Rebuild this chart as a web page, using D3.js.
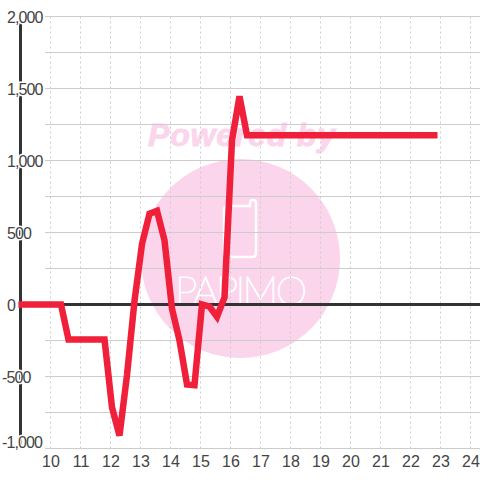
<!DOCTYPE html>
<html>
<head>
<meta charset="utf-8">
<script src="https://cdn.jsdelivr.net/npm/d3@7"></script>
<style>
html, body { margin: 0; padding: 0; background: #fff; }
svg { display: block; }
text { font-family: "Liberation Sans", sans-serif; }
</style>
</head>
<body>
<svg></svg>
<script>
const svgWidth = 480;
const svgHeight = 480;

const hours = [8.93, 10.35, 10.6, 11.8, 12.05, 12.3, 12.55, 12.8, 13.05, 13.3, 13.55, 13.8, 14.05, 14.3, 14.55, 14.8, 15.05, 15.3, 15.55, 15.8, 16.05, 16.3, 16.55, 22.9];
const values = [0, 0, -243, -243, -715, -910, -490, 25, 420, 630, 650, 445, -30, -250, -555, -560, 0, -15, -85, 50, 1140, 1445, 1175, 1175];
const xTicks = [10, 11, 12, 13, 14, 15, 16, 17, 18, 19, 20, 21, 22, 23, 24];
const yTicks = [2000, 1500, 1000, 500, 0, -500, -1000];
const yGrid = [2000, 1750, 1500, 1250, 1000, 750, 500, 250, 0, -250, -500, -750, -1000];

const svg = d3.select("svg")
	.attr("width", svgWidth)
	.attr("height", svgHeight);

const xScale = d3.scaleLinear().domain([9, 24]).range([20.5, 470.5]);
const yScale = d3.scaleLinear().domain([-1000, 2000]).range([448.5, 16.5]);

// Watermark
svg.append("circle")
	.attr("cx", 240.5)
	.attr("cy", 258.5)
	.attr("r", 99.5)
	.attr("fill", "#fbd5ec");

svg.append("text")
	.text("Powered by")
	.attr("x", 148)
	.attr("y", 146)
	.attr("font-size", 32)
	.attr("font-weight", "bold")
	.attr("font-style", "italic")
	.attr("textLength", 187)
	.attr("fill", "#fbd5ec")
	.attr("stroke", "#fbd5ec")
	.attr("stroke-width", 0.8);

svg.append("path")
	.attr("d", "M250,206H228Q224,206 224,210V253Q224,257 228,257H252Q256,257 256,253V203Q256,200 253,200Q250,200 250,203Z")
	.attr("fill", "none")
	.attr("stroke", "#fff")
	.attr("stroke-width", 2.5);

svg.append("text")
	.text("PAPIMO")
	.attr("x", 175)
	.attr("y", 305)
	.attr("font-size", 40)
	.attr("textLength", 132)
	.attr("lengthAdjust", "spacing")
	.attr("fill", "#fff")
	.attr("stroke", "#fff")
	.attr("stroke-width", 1.2)
	.style("font-family", "Lato, Inter, sans-serif")
	.style("font-weight", 100);

// Grid
svg.append("g").selectAll("line")
	.data(yGrid)
	.enter()
	.append("line")
	.attr("x1", 45)
	.attr("x2", svgWidth)
	.attr("y1", d => yScale(d))
	.attr("y2", d => yScale(d))
	.attr("stroke", "#cccccc")
	.attr("stroke-width", 1);

svg.append("g").selectAll("line")
	.data(xTicks)
	.enter()
	.append("line")
	.attr("x1", d => xScale(d))
	.attr("x2", d => xScale(d))
	.attr("y1", yScale(2000))
	.attr("y2", yScale(-1000))
	.attr("stroke", "#cccccc")
	.attr("stroke-dasharray", "2,3");

// Axis lines
svg.append("line")
	.attr("x1", xScale(9))
	.attr("x2", xScale(9))
	.attr("y1", 16)
	.attr("y2", 448)
	.attr("stroke", "#333333")
	.attr("stroke-width", 3);

svg.append("line")
	.attr("x1", xScale(9))
	.attr("x2", svgWidth)
	.attr("y1", yScale(0))
	.attr("y2", yScale(0))
	.attr("stroke", "#333333")
	.attr("stroke-width", 3);

// Data line
const line = d3.line()
	.x((d, i) => xScale(hours[i]))
	.y(d => yScale(d));

svg.append("path")
	.datum(values)
	.attr("d", line)
	.attr("fill", "none")
	.attr("stroke", "#f01f3a")
	.attr("stroke-width", 6.5)
	.attr("stroke-linejoin", "miter");

// Tick labels
svg.append("g").selectAll("text")
	.data(xTicks)
	.enter()
	.append("text")
	.text(d => d)
	.attr("x", d => xScale(d) + 0.5)
	.attr("y", 467)
	.attr("text-anchor", "middle")
	.attr("font-size", 16)
	.attr("fill", "#444444");

svg.append("g").selectAll("text")
	.data(yTicks)
	.enter()
	.append("text")
	.text(d => d3.format(",")(d).replace("\u2212", "-"))
	.attr("x", d => d < 0 ? 2 : 7)
	.attr("y", d => yScale(d) + (d === -1000 ? -1 : 6))
	.attr("font-size", 16)
	.attr("letter-spacing", -0.9)
	.attr("fill", "#444444")
	.attr("stroke", "#ffffff")
	.attr("stroke-width", 3)
	.attr("paint-order", "stroke");
</script>
</body>
</html>
